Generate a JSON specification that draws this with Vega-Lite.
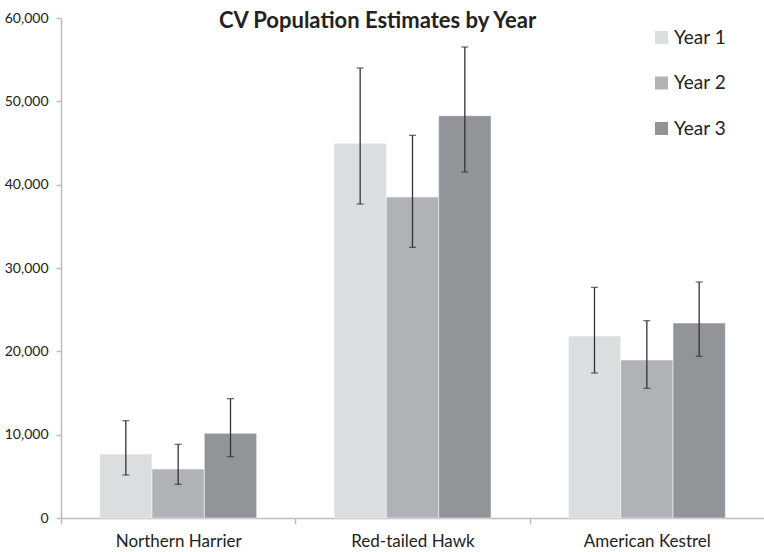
{
  "$schema": "https://vega.github.io/schema/vega-lite/v6.json",
  "width": 703,
  "height": 500,
  "autosize": "none",
  "padding": {"left": 61, "top": 18, "right": 0, "bottom": 34},
  "background": "white",
  "title": {"text": "CV Population Estimates by Year", "font": "Lato", "fontSize": 22, "fontWeight": "bold", "color": "#222222", "anchor": "middle", "offset": -22, "dx": -35},
  "config": {"view": {"stroke": null}, "font": "Lato"},
  "data": {"values": [
    {"species": "Northern Harrier", "year": "Year 1", "est": 7680, "lo": 5160, "hi": 11680},
    {"species": "Northern Harrier", "year": "Year 2", "est": 5880, "lo": 4040, "hi": 8840},
    {"species": "Northern Harrier", "year": "Year 3", "est": 10160, "lo": 7360, "hi": 14320},
    {"species": "Red-tailed Hawk", "year": "Year 1", "est": 44960, "lo": 37680, "hi": 54000},
    {"species": "Red-tailed Hawk", "year": "Year 2", "est": 38520, "lo": 32480, "hi": 45920},
    {"species": "Red-tailed Hawk", "year": "Year 3", "est": 48280, "lo": 41520, "hi": 56520},
    {"species": "American Kestrel", "year": "Year 1", "est": 21840, "lo": 17400, "hi": 27680},
    {"species": "American Kestrel", "year": "Year 2", "est": 18960, "lo": 15560, "hi": 23680},
    {"species": "American Kestrel", "year": "Year 3", "est": 23400, "lo": 19400, "hi": 28320}
  ]},
  "encoding": {
    "x": {"field": "species", "type": "nominal", "sort": null,
      "scale": {"paddingInner": 0.33, "paddingOuter": 0.165},
      "axis": {"title": null, "labelAngle": 0, "labelFontSize": 17, "labelColor": "#222222", "labelPadding": 9, "domainColor": "#bdbdbd", "tickColor": "#bdbdbd", "tickSize": 6, "tickOffset": -117.2, "labelOffset": 117.2, "domainWidth": 1.5, "tickWidth": 1.5}}
    ,
    "xOffset": {"field": "year", "type": "nominal", "scale": {"paddingInner": 0, "paddingOuter": 0}}
  },
  "layer": [
    {"mark": {"type": "bar", "stroke": "white", "strokeWidth": 0.5},
     "encoding": {
       "y": {"field": "est", "type": "quantitative",
         "scale": {"domain": [0, 60000]},
         "axis": {"title": null, "format": ",.0f", "values": [0, 10000, 20000, 30000, 40000, 50000, 60000], "grid": false, "labelFontSize": 14, "labelColor": "#222222", "labelPadding": 8, "domainColor": "#bdbdbd", "tickColor": "#bdbdbd", "tickSize": 5, "domainWidth": 1.5, "tickWidth": 1.5}},
       "color": {"field": "year", "type": "nominal",
         "scale": {"domain": ["Year 1", "Year 2", "Year 3"], "range": ["#dcdddf", "#b1b2b6", "#939498"]},
         "legend": {"title": null, "orient": "none", "legendX": 591, "legendY": 10, "symbolType": "square", "symbolSize": 169, "symbolStrokeWidth": 0, "labelFontSize": 19, "labelColor": "#222222", "rowPadding": 25.5, "labelOffset": 3, "padding": 0}}
     }},
    {"mark": {"type": "rule", "color": "#333333", "strokeWidth": 1.3},
     "encoding": {"y": {"field": "lo", "type": "quantitative", "axis": {"title": null, "format": ",.0f"}}, "y2": {"field": "hi"}}},
    {"mark": {"type": "tick", "color": "#333333", "size": 7, "thickness": 1.3},
     "encoding": {"y": {"field": "lo", "type": "quantitative", "axis": {"title": null, "format": ",.0f"}}}},
    {"mark": {"type": "tick", "color": "#333333", "size": 7, "thickness": 1.3},
     "encoding": {"y": {"field": "hi", "type": "quantitative", "axis": {"title": null, "format": ",.0f"}}}}
  ]
}
